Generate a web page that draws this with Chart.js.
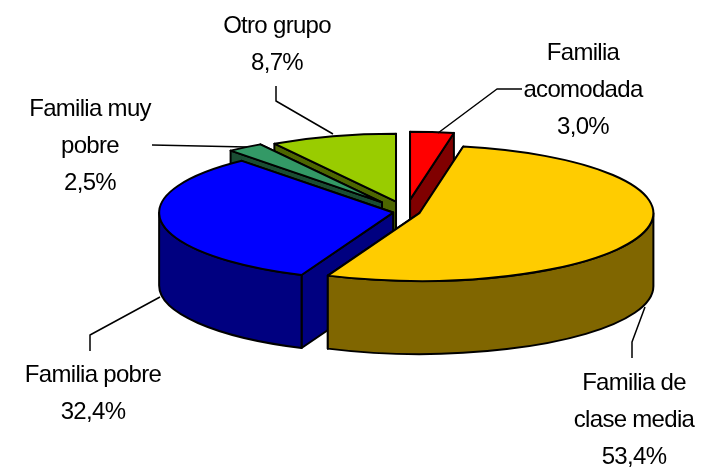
<!DOCTYPE html>
<html>
<head>
<meta charset="utf-8">
<script src="https://cdn.jsdelivr.net/npm/chart.js@4"></script>
<style>
  html, body { margin: 0; padding: 0; background: #fff; }
  canvas { display: block; }
</style>
</head>
<body>
<canvas id="pieChart" width="704" height="468"></canvas>
<script>
// data, clockwise from 12 o'clock
var categories = ["Familia acomodada", "Familia de clase media", "Familia pobre", "Familia muy pobre", "Otro grupo"];
var percents = [3.0, 53.4, 32.4, 2.5, 8.7];
var topColors = ["#FF0000", "#FFCC00", "#0000FF", "#339966", "#99CC00"];
var sideColors = ["#800000", "#806600", "#000080", "#1A4D33", "#4D6600"];

// how the flat pie becomes the tilted one
var squash = 0.29;
var depth = 73;
var explode = [43, 14, 13, 41, 37];
var drawOrder = [4, 3, 0, 2, 1]; // back to front

// label lines and leader lines for each slice
var labelLines = [["Familia", "acomodada"], ["Familia de", "clase media"], ["Familia pobre"], ["Familia muy", "pobre"], ["Otro grupo"]];
var labelPos = [[583, 53], [634, 383], [93, 375], [90, 109], [277, 26]];
var lineGap = 37;
var leaders = [
    [[522, 89], [497, 89], [438, 133]],
    [[645, 307], [632, 342], [632, 358]],
    [[160, 297], [90, 335], [90, 351]],
    [[152, 145], [247, 147]],
    [[276, 86], [276, 101], [333, 134]]
];

function sliceCenter(arc) {
    var mid = (arc.startAngle + arc.endAngle) / 2;
    var d = explode[arc.$context.dataIndex];
    return { x: arc.x + Math.cos(mid) * d, y: arc.y + Math.sin(mid) * d * squash };
}

function fillStroke(ctx, color) {
    ctx.fillStyle = color;
    ctx.fill();
    ctx.stroke();
}

function radialFace(ctx, c, r, angle, color) {
    var ex = c.x + Math.cos(angle) * r;
    var ey = c.y + Math.sin(angle) * r * squash;
    ctx.beginPath();
    ctx.moveTo(c.x, c.y);
    ctx.lineTo(ex, ey);
    ctx.lineTo(ex, ey + depth);
    ctx.lineTo(c.x, c.y + depth);
    ctx.closePath();
    fillStroke(ctx, color);
}

function drawSlice(ctx, arc, i) {
    var c = sliceCenter(arc);
    var r = arc.outerRadius;
    var s = arc.startAngle;
    var e = arc.endAngle;

    // end face first, the start face sits in front of it
    radialFace(ctx, c, r, e, sideColors[i]);
    radialFace(ctx, c, r, s, sideColors[i]);

    // outer wall, only the part that faces us
    var a1 = Math.max(s, 0);
    var a2 = Math.min(e, Math.PI);
    if (a2 > a1) {
        ctx.beginPath();
        ctx.ellipse(c.x, c.y, r, r * squash, 0, a1, a2);
        ctx.ellipse(c.x, c.y + depth, r, r * squash, 0, a2, a1, true);
        ctx.closePath();
        fillStroke(ctx, sideColors[i]);
    }

    // top face is the library's own arc, squashed and moved out
    ctx.save();
    ctx.translate(c.x, c.y);
    ctx.scale(1, squash);
    ctx.translate(-arc.x, -arc.y);
    arc.draw(ctx);
    ctx.restore();

    ctx.beginPath();
    ctx.moveTo(c.x, c.y);
    ctx.ellipse(c.x, c.y, r, r * squash, 0, s, e);
    ctx.closePath();
    ctx.stroke();
}

var pie3d = {
    id: "pie3d",
    beforeDatasetDraw: function () {
        return false; // slices get drawn below, in our order
    },
    afterDatasetsDraw: function (chart) {
        var ctx = chart.ctx;
        var arcs = chart.getDatasetMeta(0).data;
        ctx.save();
        ctx.strokeStyle = "#000";
        ctx.lineWidth = 2;
        ctx.lineJoin = "round";
        drawOrder.forEach(function (i) {
            drawSlice(ctx, arcs[i], i);
        });

        // leader lines
        ctx.lineWidth = 1.5;
        leaders.forEach(function (pts) {
            ctx.beginPath();
            pts.forEach(function (p, n) {
                if (n == 0) ctx.moveTo(p[0], p[1]);
                else ctx.lineTo(p[0], p[1]);
            });
            ctx.stroke();
        });

        // labels
        ctx.fillStyle = "#000";
        ctx.font = "24px 'Liberation Sans'";
        ctx.letterSpacing = "-0.7px";
        ctx.textAlign = "center";
        ctx.textBaseline = "middle";
        categories.forEach(function (name, i) {
            var lines = labelLines[i].concat([percents[i].toFixed(1).replace(".", ",") + "%"]);
            lines.forEach(function (txt, n) {
                ctx.fillText(txt, labelPos[i][0], labelPos[i][1] + n * lineGap);
            });
        });
        ctx.restore();
    }
};

var ctx = document.getElementById("pieChart");
var pieChart = new Chart(ctx, {
    type: "pie",
    data: {
        labels: categories,
        datasets: [{
            data: percents,
            backgroundColor: topColors,
            borderWidth: 0,
            radius: 234
        }]
    },
    options: {
        responsive: false,
        animation: false,
        layout: { padding: { left: 108, bottom: 44 } }, // moves pie center to 406,212
        plugins: { legend: { display: false }, tooltip: { enabled: false } }
    },
    plugins: [pie3d]
});
</script>
</body>
</html>
